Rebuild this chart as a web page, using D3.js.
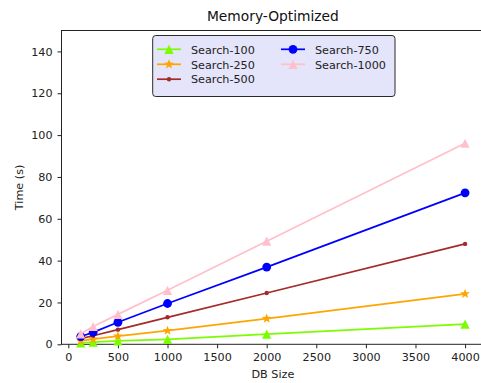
<!DOCTYPE html>
<html>
<head>
<meta charset="utf-8">
<script src="https://cdn.jsdelivr.net/npm/d3@7"></script>
<style>
  html, body { margin: 0; padding: 0; background: #fff; overflow: hidden; }
  svg { display: block; font-family: "DejaVu Sans", sans-serif; }
</style>
</head>
<body>
<svg id="chart" width="481" height="383"></svg>
<script>
// DB sizes on the x axis
const dbSizes = [125, 250, 500, 1000, 2000, 4000];

// Query time (s) per search width
const search100  = [0.7, 1.0, 1.6, 2.4, 4.9, 9.6];
const search250  = [1.6, 2.5, 3.9, 6.5, 12.3, 24.1];
const search500  = [2.7, 4.1, 7.0, 12.9, 24.5, 48.0];
const search750  = [3.7, 5.7, 10.5, 19.5, 36.9, 72.4];
const search1000 = [5.0, 8.5, 14.3, 25.8, 49.3, 96.1];

const seriesNames = ["Search-100", "Search-250", "Search-500", "Search-750", "Search-1000"];
const seriesValues = [search100, search250, search500, search750, search1000];

const xTicks = [0, 500, 1000, 1500, 2000, 2500, 3000, 3500, 4000];
const yTicks = [0, 20, 40, 60, 80, 100, 120, 140];

const styles = [
  { color: "#7cfc00", marker: "triangle", size: 4.6 },
  { color: "#ffa500", marker: "star", size: 4.8 },
  { color: "#a52a2a", marker: "dot", size: 2.2 },
  { color: "#0000ff", marker: "circle", size: 4.4 },
  { color: "#ffc0cb", marker: "triangle", size: 4.6 }
];

const svg = d3.select("#chart");
const plot = { left: 61.5, right: 484.3, top: 30.5, bottom: 344.3 };

// matplotlib-style 5% margins around the data range
const xMin = d3.min(dbSizes), xMax = d3.max(dbSizes);
const pad = (xMax - xMin) * 0.05;
const x = d3.scaleLinear().domain([xMin - pad, xMax + pad]).range([plot.left, plot.right]);
const y = d3.scaleLinear().domain([0, 150]).range([plot.bottom, plot.top]);

const fs = 11.2;

// Title
svg.append("text")
  .attr("x", (plot.left + plot.right) / 2).attr("y", 21)
  .attr("text-anchor", "middle").attr("font-size", 13.8).attr("fill", "#111")
  .text("Memory-Optimized");

// Axes
const xAxis = d3.axisBottom(x).tickValues(xTicks).tickSize(4).tickPadding(5).tickFormat(d3.format("d"));
const yAxis = d3.axisLeft(y).tickValues(yTicks).tickSize(4).tickPadding(5).tickFormat(d3.format("d"));

const gx = svg.append("g").attr("transform", `translate(0,${plot.bottom})`).call(xAxis);
const gy = svg.append("g").attr("transform", `translate(${plot.left},0)`).call(yAxis);
[gx, gy].forEach(g => {
  g.select(".domain").remove();
  g.selectAll(".tick line").attr("stroke", "#222").attr("stroke-width", 1);
  g.selectAll(".tick text").attr("font-size", fs).attr("fill", "#222").attr("font-family", "DejaVu Sans, sans-serif");
});

// Spines (left, bottom, top, right)
svg.append("rect")
  .attr("x", plot.left).attr("y", plot.top)
  .attr("width", plot.right - plot.left).attr("height", plot.bottom - plot.top)
  .attr("fill", "none").attr("stroke", "#222").attr("stroke-width", 1);

// Axis labels
svg.append("text")
  .attr("x", (plot.left + plot.right) / 2).attr("y", 377.5)
  .attr("text-anchor", "middle").attr("font-size", fs).attr("fill", "#222")
  .text("DB Size");
svg.append("text")
  .attr("transform", `translate(23,${(plot.top + plot.bottom) / 2}) rotate(-90)`)
  .attr("text-anchor", "middle").attr("font-size", fs).attr("fill", "#222")
  .text("Time (s)");

// Marker shapes
function drawMarker(g, kind, cx, cy, r, color) {
  if (kind === "circle" || kind === "dot") {
    g.append("circle").attr("cx", cx).attr("cy", cy).attr("r", r).attr("fill", color);
  } else if (kind === "triangle") {
    const pts = [[cx, cy - r], [cx - r, cy + r], [cx + r, cy + r]];
    g.append("polygon").attr("points", pts.map(p => p.join(",")).join(" ")).attr("fill", color);
  } else if (kind === "star") {
    const pts = [];
    for (let i = 0; i < 10; i++) {
      const a = -Math.PI / 2 + i * Math.PI / 5;
      const rr = i % 2 === 0 ? r * 1.05 : r * 0.45;
      pts.push([cx + rr * Math.cos(a), cy + rr * Math.sin(a)]);
    }
    g.append("polygon").attr("points", pts.map(p => p.join(",")).join(" ")).attr("fill", color);
  }
}

// Series lines and markers
const clip = svg.append("clipPath").attr("id", "plotclip")
  .append("rect").attr("x", plot.left).attr("y", plot.top)
  .attr("width", plot.right - plot.left).attr("height", plot.bottom - plot.top);

const line = d3.line().x(d => x(d[0])).y(d => y(d[1]));
const gData = svg.append("g");
seriesValues.forEach((vals, i) => {
  const st = styles[i];
  const pts = dbSizes.map((d, j) => [d, vals[j]]);
  const g = gData.append("g");
  g.append("path").datum(pts).attr("d", line)
    .attr("fill", "none").attr("stroke", st.color).attr("stroke-width", 1.7);
  pts.forEach(p => drawMarker(g, st.marker, x(p[0]), y(p[1]), st.size, st.color));
});

// Legend (two columns, upper center)
const leg = svg.append("g");
leg.append("rect")
  .attr("x", 152.7).attr("y", 35.5).attr("width", 242.3).attr("height", 61)
  .attr("rx", 3).attr("ry", 3)
  .attr("fill", "#e4e4fa").attr("stroke", "#2a2a2a").attr("stroke-width", 1);

const legCols = [157, 281];
const legRows = [49.3, 64.3, 79.2];
seriesNames.forEach((name, i) => {
  const col = i < 3 ? 0 : 1;
  const row = i < 3 ? i : i - 3;
  const lx = legCols[col], ly = legRows[row];
  const st = styles[i];
  const g = leg.append("g");
  g.append("line").attr("x1", lx).attr("x2", lx + 24).attr("y1", ly).attr("y2", ly)
    .attr("stroke", st.color).attr("stroke-width", 1.7);
  drawMarker(g, st.marker, lx + 12, ly, st.size, st.color);
  g.append("text").attr("x", lx + 34).attr("y", ly + 4.2)
    .attr("font-size", fs).attr("fill", "#222").text(name);
});
</script>
</body>
</html>
